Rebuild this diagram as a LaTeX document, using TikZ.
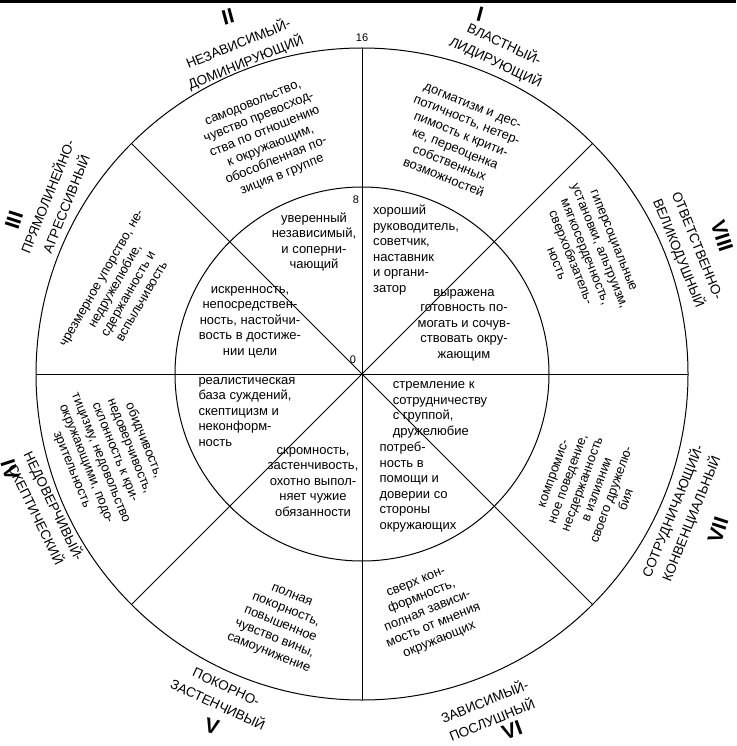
\documentclass[tikz,border=0pt]{standalone}
\usepackage{fontspec}
\setmainfont{Liberation Sans}
\begin{document}
\begin{tikzpicture}[x=1pt,y=1pt,
  t/.style={align=center,inner sep=0pt,font=\fontsize{13}{15.5}\selectfont},
  tl/.style={align=left,inner sep=0pt,font=\fontsize{13}{15.5}\selectfont},
  lab/.style={align=center,inner sep=0pt,font=\fontsize{13.5}{20}\selectfont},
  num/.style={inner sep=0pt,font=\fontsize{21}{21}\selectfont\bfseries},
  sc/.style={inner sep=0pt,font=\fontsize{11}{11}\selectfont}]
\useasboundingbox (0,0) rectangle (736,-746);
\fill[black] (0,0) rectangle (736,-3);
\coordinate (C) at (362,-374);
\draw[line width=1pt] (C) circle (326);
\draw[line width=1pt] (C) circle (187);
\draw[line width=1pt] (362,-48) -- (362,-700);
\draw[line width=1pt] (36,-374) -- (688,-374);
\draw[line width=1pt] (131.5,-143.5) -- (592.5,-604.5);
\draw[line width=1pt] (592.5,-143.5) -- (131.5,-604.5);
% scale
\node[sc] at (362,-38) {16};
\node[sc] at (356,-200) {8};
\node[sc] at (353,-360) {0};
% inner ring
\node[t] at (314,-242) {уверенный\\независимый,\\и соперни-\\чающий};
\node[tl] at (416,-250) {хороший\\руководитель,\\советчик,\\наставник\\и органи-\\затор};
\node[t] at (250,-322) {искренность,\\непосредствен-\\ность, настойчи-\\вость в достиже-\\нии цели};
\node[t] at (464,-325) {выражена\\готовность по-\\могать и сочув-\\ствовать окру-\\жающим};
\node[tl] at (247,-412) {реалистическая\\база суждений,\\скептицизм и\\неконформ-\\ность};
\node[tl] at (440,-410) {стремление к\\сотрудничеству\\с группой,\\дружелюбие};
\node[t] at (313,-482) {скромность,\\застенчивость,\\охотно выпол-\\няет чужие\\обязанности};
\node[tl] at (418,-487) {потреб-\\ность в\\помощи и\\доверии со\\стороны\\окружающих};
% outer ring
\node[t,rotate=22] at (268,-140) {самодовольство,\\чувство превосход-\\ства по отношению\\к окружающим,\\обособленная по-\\зиция в группе};
\node[t,rotate=-22] at (458,-142) {догматизм и дес-\\потичность, нетер-\\пимость к крити-\\ке, переоценка\\собственных\\возможностей};
\node[t,rotate=60] at (122,-290) {чрезмерное упорство, не-\\недружелюбие,\\сдержанность и\\вспыльчивость};
\node[t,rotate=-68] at (585,-252) {гиперсоциальные\\установки, альтруизм,\\мягкосердечность,\\сверхобязатель-\\ность};
\node[t,rotate=-68] at (108,-455) {обидчивость,\\недоверчивость,\\склонность к кри-\\тицизму, недовольство\\окружающими, подо-\\зрительность};
\node[t,rotate=70] at (590,-487) {компромис-\\ное поведение,\\несдержанность\\в излиянии\\своего дружелю-\\бия};
\node[t,rotate=-22] at (280,-625) {полная\\покорность,\\повышенное\\чувство вины,\\самоунижение};
\node[t,rotate=22] at (428,-612) {сверх кон-\\формность,\\полная зависи-\\мость от мнения\\окружающих};
% outside labels
\node[num,rotate=15] at (228,-17) {II};
\node[lab,rotate=22] at (242,-53) {НЕЗАВИСИМЫЙ-\\ДОМИНИРУЮЩИЙ};
\node[num,rotate=-15] at (480,-14) {I};
\node[lab,rotate=-25] at (500,-53) {ВЛАСТНЫЙ-\\ЛИДИРУЮЩИЙ};
\node[num,rotate=-72] at (722,-236) {VIII};
\node[lab,rotate=-68] at (687,-250) {ОТВЕТСТВЕННО-\\ВЕЛИКОДУШНЫЙ};
\node[num,rotate=72] at (14,-220) {III};
\node[lab,rotate=68] at (56,-200) {ПРЯМОЛИНЕЙНО-\\АГРЕССИВНЫЙ};
\node[num,rotate=-72] at (10,-470) {IV};
\node[lab,rotate=-64] at (46,-510) {НЕДОВЕРЧИВЫЙ-\\СКЕПТИЧЕСКИЙ};
\node[num,rotate=-15] at (212,-726) {V};
\node[lab,rotate=-25] at (222,-696) {ПОКОРНО-\\ЗАСТЕНЧИВЫЙ};
\node[num,rotate=20] at (512,-730) {VI};
\node[lab,rotate=22] at (488,-710) {ЗАВИСИМЫЙ-\\ПОСЛУШНЫЙ};
\node[num,rotate=72] at (718,-530) {VII};
\node[lab,rotate=68] at (682,-515) {СОТРУДНИЧАЮЩИЙ-\\КОНВЕНЦИАЛЬНЫЙ};
\end{tikzpicture}
\end{document}
